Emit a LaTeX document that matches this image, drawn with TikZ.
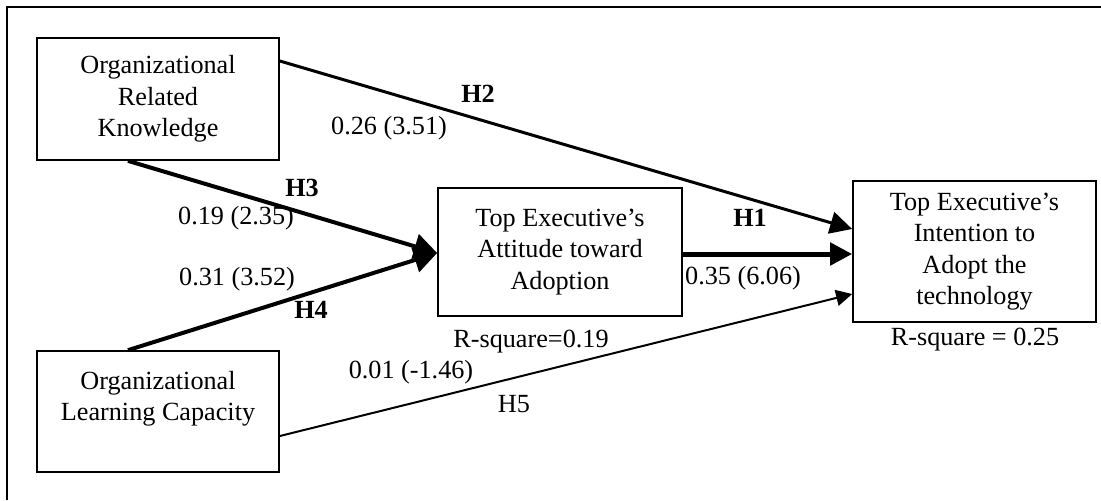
\documentclass[tikz,border=0pt]{standalone}
\usepackage{fontspec}
\setmainfont{Liberation Serif}
\usetikzlibrary{arrows.meta,calc}

\tikzset{
  construct/.style={draw, line width=0.85pt, align=center, inner sep=0pt,
    font=\fontsize{13.1}{15.75}\selectfont},
  lbl/.style={inner sep=0pt, font=\fontsize{13.1}{15.75}\selectfont},
  hyp/.style={inner sep=0pt, font=\fontsize{13.1}{15.75}\selectfont\bfseries},
  path/.style={line width=#1},
  bighead/.style={-{Triangle[length=11pt,width=11pt]}},
  widehead/.style={-{Triangle[length=11.5pt,width=12.5pt]}},
  smallhead/.style={-{Triangle[length=8pt,width=8pt]}}
}

\begin{document}
\begin{tikzpicture}[x=0.5pt,y=-0.5pt]
  % page area; the outer frame shows only its left and top sides here
  \useasboundingbox (0,0) rectangle (1101,500);
  \fill[white] (0,0) rectangle (1101,500);
  \coordinate (fbl) at (7,500);
  \coordinate (ftl) at (7,7);
  \coordinate (ftr) at (1101,7);
  \draw[line width=1pt] (fbl) -- (ftl) -- (ftr);

  % constructs
  \node[construct, minimum width=121pt, minimum height=61pt] (ork) at (158,99)
    {Organizational\\Related\\Knowledge};
  \node[construct, minimum width=121pt, minimum height=60.5pt] (olc) at (158,411.5)
    {Organizational\\Learning Capacity\\~};
  \node[construct, minimum width=122pt, minimum height=64pt] (ata) at (560,252)
    {Top Executive’s\\Attitude toward\\Adoption};
  \node[construct, minimum width=121.5pt, minimum height=70.5pt] (ita) at (974.5,251.5)
    {Top Executive’s\\Intention to\\Adopt the\\technology};

  % paths
  \draw[path=1.5pt, bighead] ($(ork.east)+(0,-38)$) -- ($(ita.west)+(0,-22.5)$);
  \draw[path=2.5pt, bighead] ($(ata.east)+(0,2)$) -- ($(ita.west)+(0,2.5)$);
  \draw[path=2pt, widehead] ($(ork.south)+(-30,0)$) -- ($(ata.west)+(0,1)$);
  \draw[path=2pt, widehead] ($(olc.north)+(-30,0)$) -- ($(ata.west)+(0,1)$);
  \draw[path=1pt, smallhead] ($(olc.east)+(0,24.5)$) -- ($(ita.west)+(0,42.5)$);

  % path labels
  \node[hyp] (h2) at (478,94) {H2};
  \node[lbl] (c2) at (389,128) {0.26 (3.51)};
  \node[hyp] (h3) at (302,188) {H3};
  \node[lbl] (c3) at (236,218) {0.19 (2.35)};
  \node[lbl] (c4) at (237,279) {0.31 (3.52)};
  \node[hyp] (h4) at (311,310) {H4};
  \node[hyp] (h1) at (750,218) {H1};
  \node[lbl] (c1) at (743,278) {0.35 (6.06)};
  \node[lbl] (c5) at (411,372) {0.01 (-1.46)};
  \node[lbl] (h5) at (514,404) {H5};

  % explained variance
  \node[lbl] (r1) at (531,342) {R-square=0.19};
  \node[lbl] (r2) at (975,340) {R-square = 0.25};
\end{tikzpicture}
\end{document}
